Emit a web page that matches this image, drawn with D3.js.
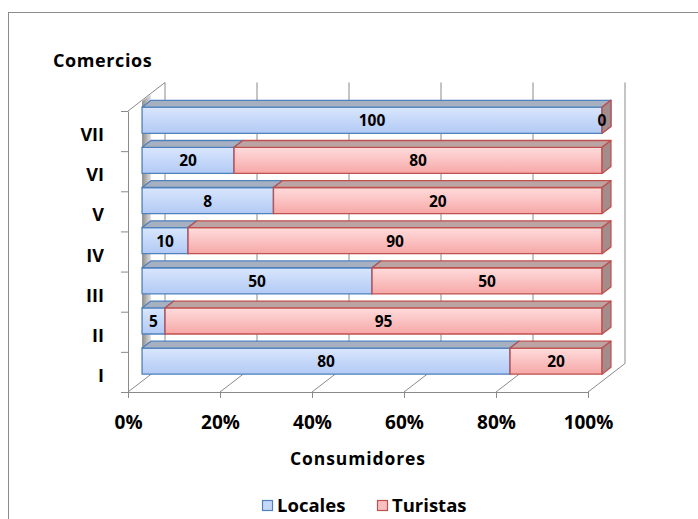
<!DOCTYPE html>
<html>
<head>
<meta charset="utf-8">
<script src="https://cdn.jsdelivr.net/npm/d3@7/dist/d3.min.js"></script>
<style>
  html, body { margin: 0; padding: 0; background: #fff; }
  svg { display: block; }
  text { font-family: "Open Sans", "DejaVu Sans", sans-serif; font-weight: 700; fill: #000; }
</style>
</head>
<body>
<svg id="chart" width="698" height="519"></svg>
<script>
// Comercios (I–VII) by consumer type
const categories = ["I", "II", "III", "IV", "V", "VI", "VII"];
const locales    = [80, 5, 50, 10, 8, 20, 100];
const turistas   = [20, 95, 50, 90, 20, 80, 0];
const seriesNames = ["Locales", "Turistas"];
const tickValues = [0, 0.2, 0.4, 0.6, 0.8, 1];
const tickLabels = ["0%", "20%", "40%", "60%", "80%", "100%"];

const rows = categories.map((c, i) => ({ cat: c, Locales: locales[i], Turistas: turistas[i] }));
const stacked = d3.stack().keys(seriesNames).offset(d3.stackOffsetExpand)(rows);

const svg = d3.select("#chart");

// oblique projection: full depth of the plot box, and the slab the bars occupy
const DX = 37, DY = -28.5;
const barT0 = 0.38, barT1 = 0.62;

const x = d3.scaleLinear().domain([0, 1]).range([128, 588]);
const yLin = d3.scaleLinear().domain([0, categories.length]).range([392, 111]);
const y = d3.scaleBand().domain(categories.slice().reverse()).range([111, 392])
  .paddingInner(0.35).paddingOuter(0.175);

const palette = {
  Locales:  { top: "#d9e6fd", bottom: "#b2caf5", stroke: "#4f81bd", lid: "#a7b0c0", side: "#909fb8", key: "#c6d8f8" },
  Turistas: { top: "#ffdcdc", bottom: "#f6a8a7", stroke: "#c0504d", lid: "#bca4a4", side: "#a28c8c", key: "#f9c0c0" }
};

const defs = svg.append("defs");
seriesNames.forEach(k => {
  const g = defs.append("linearGradient").attr("id", "grad-" + k)
    .attr("x1", 0).attr("y1", 0).attr("x2", 0).attr("y2", 1);
  g.append("stop").attr("offset", 0).attr("stop-color", palette[k].top);
  g.append("stop").attr("offset", 1).attr("stop-color", palette[k].bottom);
});
const wallGrad = defs.append("linearGradient").attr("id", "wall-shade")
  .attr("x1", 0).attr("y1", 0).attr("x2", 1).attr("y2", 0);
wallGrad.append("stop").attr("offset", 0).attr("stop-color", "#8c8c8c");
wallGrad.append("stop").attr("offset", 1).attr("stop-color", "#e0e0e0");

// chart area frame
svg.append("rect").attr("x", 8.5).attr("y", 12.5).attr("width", 720).attr("height", 540)
  .attr("fill", "none").attr("stroke", "#8c8c8c").attr("stroke-width", 1);

const lineColor = "#8a8a8a";
const grid = svg.append("g").attr("stroke", lineColor).attr("stroke-width", 1).attr("fill", "none");

// back-wall gridlines (including both wall edges)
grid.selectAll("line.back").data(tickValues).join("line").attr("class", "back")
  .attr("x1", d => x(d) + DX).attr("x2", d => x(d) + DX)
  .attr("y1", yLin(categories.length) + DY).attr("y2", yLin(0) + DY);

// floor lines running into depth
grid.selectAll("line.floor").data(tickValues).join("line").attr("class", "floor")
  .attr("x1", d => x(d)).attr("y1", yLin(0))
  .attr("x2", d => x(d) + DX).attr("y2", yLin(0) + DY);

// top edge of the left wall
grid.append("line")
  .attr("x1", x(0)).attr("y1", yLin(categories.length))
  .attr("x2", x(0) + DX).attr("y2", yLin(categories.length) + DY);

// shading of the left wall behind the bars
const stripTop = y(categories[categories.length - 1]) - 6;
const stripBot = y(categories[0]) + y.bandwidth();
svg.append("path")
  .attr("fill", "url(#wall-shade)")
  .attr("d", d3.line()([
    [x(0) + DX * barT0, stripTop + DY * barT0],
    [x(0) + DX * barT1, stripTop + DY * barT1],
    [x(0) + DX * barT1, stripBot + DY * barT1],
    [x(0) + DX * barT0, stripBot + DY * barT0]
  ]) + "Z");

// category axis (front edge of the left wall)
const yAxis = svg.append("g").attr("transform", `translate(${x(0)},0)`)
  .call(d3.axisLeft(yLin).tickValues(d3.range(categories.length + 1)).tickFormat("").tickSize(7).tickSizeOuter(0));
yAxis.selectAll("path, line").attr("stroke", lineColor);

// value axis along the front of the floor
const xAxis = svg.append("g").attr("transform", `translate(0,${yLin(0)})`)
  .call(d3.axisBottom(x).tickValues(tickValues).tickFormat((d, i) => tickLabels[i]).tickSize(6).tickSizeOuter(0));
xAxis.selectAll("path, line").attr("stroke", lineColor);
xAxis.selectAll("text").attr("y", 37).attr("dy", 0)
  .style("font-size", "19px").style("font-family", "'Open Sans', sans-serif").style("font-weight", 700);

// bars
const ox = DX * barT0, oy = DY * barT0;
const ddx = DX * (barT1 - barT0), ddy = DY * (barT1 - barT0);
const barsG = svg.append("g");
categories.slice().reverse().forEach(cat => {
  const i = categories.indexOf(cat);
  const yt = y(cat) + oy, yb = y(cat) + y.bandwidth() + oy;
  stacked.forEach(layer => {
    const k = layer.key, p = palette[k];
    const x0 = x(layer[i][0]) + ox, x1 = x(layer[i][1]) + ox;
    const g = barsG.append("g").attr("stroke", p.stroke).attr("stroke-width", 1.3)
      .attr("stroke-linejoin", "round");
    g.append("rect").attr("x", x0).attr("y", yt).attr("width", x1 - x0).attr("height", yb - yt)
      .attr("fill", `url(#grad-${k})`);
    g.append("path").attr("fill", p.lid).attr("d", d3.line()([
      [x0, yt], [x0 + ddx, yt + ddy], [x1 + ddx, yt + ddy], [x1, yt]
    ]) + "Z");
    g.append("path").attr("fill", p.side).attr("d", d3.line()([
      [x1, yt], [x1 + ddx, yt + ddy], [x1 + ddx, yb + ddy], [x1, yb]
    ]) + "Z");
  });
});

// value labels in the middle of each segment
const labels = svg.append("g").attr("text-anchor", "middle").style("font-size", "15.5px");
stacked.forEach(layer => {
  const vals = layer.key === "Locales" ? locales : turistas;
  categories.forEach((cat, i) => {
    labels.append("text")
      .attr("x", (x(layer[i][0]) + x(layer[i][1])) / 2 + ox)
      .attr("y", y(cat) + y.bandwidth() / 2 + oy + 6)
      .text(vals[i]);
  });
});

// category names
svg.append("g").attr("text-anchor", "end").style("font-size", "18px")
  .selectAll("text").data(categories).join("text")
  .attr("x", 104)
  .attr("y", d => y(d) + y.bandwidth() / 2 + 10)
  .text(d => d);

// axis titles
svg.append("text").attr("x", 53).attr("y", 67).style("font-size", "18px")
  .style("letter-spacing", "0.6px").text("Comercios");
svg.append("text").attr("x", (x(0) + x(1)) / 2).attr("y", 465).attr("text-anchor", "middle")
  .style("font-size", "17.5px").style("letter-spacing", "0.9px").text("Consumidores");

// legend
const legendX = [262, 377];
const legend = svg.append("g");
seriesNames.forEach((k, i) => {
  legend.append("rect").attr("x", legendX[i] + 0.5).attr("y", 500.5).attr("width", 10).attr("height", 10)
    .attr("fill", palette[k].key).attr("stroke", palette[k].stroke).attr("stroke-width", 1.2);
  legend.append("text").attr("x", legendX[i] + 15).attr("y", 512).style("font-size", "18.5px").text(k);
});
</script>
</body>
</html>
